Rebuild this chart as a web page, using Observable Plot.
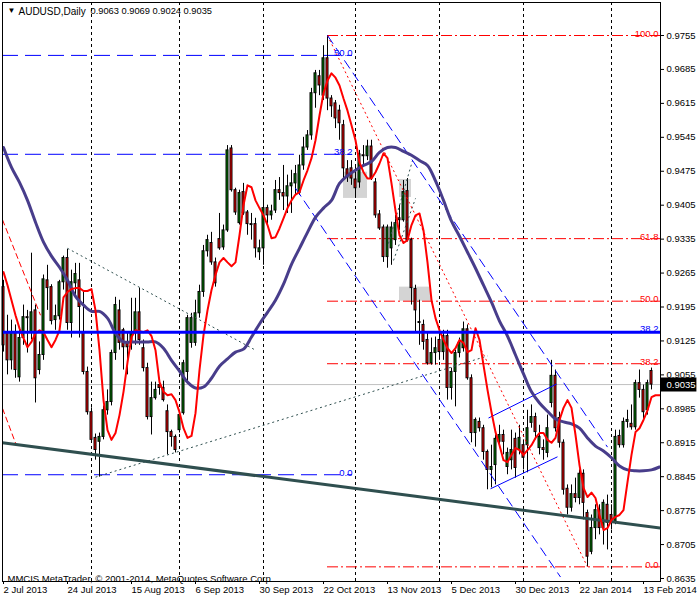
<!DOCTYPE html>
<html><head><meta charset="utf-8">
<script src="https://cdn.jsdelivr.net/npm/d3@7"></script>
<script src="https://cdn.jsdelivr.net/npm/@observablehq/plot@0.6"></script>
<style>body{margin:0;background:#fff;}</style>
</head><body><div id="chart"></div>
<script>
const symbolLabel = "AUDUSD,Daily";
const ohlcLabel = "0.9063 0.9069 0.9024 0.9035";
const copyright = "MMCIS MetaTrader, \u00A9 2001-2014, MetaQuotes Software Corp.";

const xTicks = [0,16,32,48,64,80,96,112,128,144,160];
const xLabels = ["2 Jul 2013","24 Jul 2013","15 Aug 2013","6 Sep 2013","30 Sep 2013","22 Oct 2013","13 Nov 2013","5 Dec 2013","30 Dec 2013","22 Jan 2014","13 Feb 2014"];
const yTicks = [0.9755,0.9685,0.9615,0.9545,0.9475,0.9405,0.9335,0.9265,0.9195,0.9125,0.9055,0.8985,0.8915,0.8845,0.8775,0.8705,0.8635];
const gridIdx = [22,44,65,88,109,130,152];

const open = [
.9236,.9143,.9085,.9143,.9050,.9131,.9174,.9143,.9188,.9065,
.9096,.9250,.9236,.9168,.9176,.9246,.9296,.9162,.9244,.9250,
.9143,.9061,.8978,.8925,.8917,.8927,.8982,.8999,.9100,.9188,
.9147,.9121,.9121,.9141,.9184,.9110,.9069,.8968,.9007,.9034,
.9028,.8980,.8937,.8927,.8941,.8976,.9061,.9121,.9121,.9182,
.9226,.9310,.9327,.9287,.9335,.9318,.9353,.9522,.9436,.9368,
.9432,.9390,.9366,.9366,.9308,.9316,.9399,.9384,.9394,.9436,
.9430,.9423,.9444,.9450,.9430,.9487,.9524,.9549,.9636,.9671,
.9631,.9708,.9625,.9615,.9600,.9570,.9479,.9481,.9458,.9452,
.9508,.9506,.9526,.9452,.9386,.9359,.9298,.9316,.9333,.9378,
.9374,.9434,.9333,.9232,.9164,.9158,.9127,.9079,.9100,.9127,
.9102,.9135,.9028,.9061,.9100,.9110,.9149,.9048,.8935,.8958,
.8945,.8896,.8859,.8869,.8917,.8931,.8865,.8879,.8923,.8900,
.8910,.8910,.8956,.8968,.8904,.8904,.8894,.8997,.9053,.8966,
.8915,.8820,.8781,.8809,.8801,.8851,.8770,.8690,.8739,.8776,
.8739,.8787,.8766,.8752,.8929,.8910,.8958,.8954,.8947,.9038,
.9024,.8982,.9063];
const high = [
.9250,.9178,.9168,.9158,.9147,.9199,.9188,.9306,.9199,.9123,
.9261,.9281,.9241,.9199,.9250,.9300,.9314,.9271,.9285,.9285,
.9226,.9071,.8987,.8933,.8935,.8991,.9024,.9106,.9215,.9209,
.9151,.9143,.9213,.9213,.9234,.9127,.9079,.9040,.9040,.9048,
.9042,.8993,.8941,.8931,.8982,.9085,.9178,.9182,.9209,.9240,
.9322,.9343,.9349,.9296,.9388,.9364,.9528,.9528,.9440,.9436,
.9450,.9394,.9388,.9378,.9333,.9436,.9405,.9405,.9456,.9462,
.9487,.9467,.9477,.9487,.9508,.9545,.9559,.9646,.9683,.9683,
.9734,.9755,.9631,.9621,.9611,.9580,.9497,.9497,.9487,.9518,
.9528,.9539,.9539,.9460,.9394,.9364,.9364,.9370,.9384,.9405,
.9456,.9460,.9337,.9240,.9209,.9168,.9143,.9131,.9133,.9153,
.9147,.9147,.9069,.9106,.9131,.9164,.9158,.9055,.8966,.8966,
.8951,.8900,.8910,.8931,.8951,.8941,.8904,.8941,.8935,.8951,
.8921,.8982,.8993,.8976,.8951,.8921,.8972,.9085,.9065,.8978,
.8921,.8828,.8828,.8842,.8859,.8859,.8776,.8766,.8787,.8787,
.8797,.8807,.8787,.8941,.8941,.8966,.8982,.8993,.9044,.9065,
.9034,.9044,.9069];
const low = [
.9102,.9055,.9065,.9048,.9040,.9116,.9100,.9127,.8997,.9055,
.9085,.9188,.9158,.9147,.9168,.9230,.9147,.9131,.9219,.9131,
.9055,.8972,.8917,.8879,.8844,.8921,.8972,.8991,.9085,.9106,
.9065,.9055,.9106,.9116,.9116,.9061,.8962,.8931,.9003,.9013,
.8999,.8890,.8906,.8894,.8935,.8972,.9038,.9110,.9114,.9172,
.9215,.9298,.9281,.9236,.9312,.9312,.9349,.9432,.9384,.9364,
.9384,.9343,.9333,.9296,.9291,.9281,.9364,.9374,.9388,.9415,
.9394,.9388,.9388,.9425,.9425,.9477,.9518,.9539,.9605,.9631,
.9621,.9600,.9586,.9563,.9539,.9460,.9452,.9446,.9419,.9440,
.9487,.9497,.9456,.9378,.9353,.9287,.9275,.9281,.9322,.9353,
.9370,.9329,.9199,.9141,.9116,.9106,.9075,.9075,.9075,.9085,
.9085,.9003,.9003,.8989,.9090,.9102,.9044,.8915,.8906,.8937,
.8879,.8818,.8822,.8828,.8910,.8890,.8849,.8859,.8842,.8890,
.8859,.8853,.8945,.8921,.8890,.8879,.8884,.8987,.8937,.8904,
.8807,.8766,.8772,.8791,.8787,.8756,.8659,.8684,.8715,.8725,
.8704,.8694,.8735,.8746,.8904,.8904,.8945,.8941,.8941,.9007,
.8962,.8972,.9024];
const close = [
.9116,.9085,.9143,.9065,.9131,.9174,.9172,.9184,.9048,.9096,
.9252,.9234,.9166,.9176,.9246,.9296,.9162,.9246,.9263,.9195,
.9061,.8978,.8921,.8900,.8927,.8982,.8999,.9100,.9199,.9121,
.9112,.9112,.9141,.9184,.9127,.9069,.8968,.9007,.9024,.9028,
.9003,.8937,.8927,.8900,.8972,.9079,.9172,.9172,.9182,.9226,
.9310,.9333,.9287,.9244,.9316,.9353,.9518,.9436,.9390,.9430,
.9388,.9366,.9364,.9316,.9316,.9399,.9384,.9392,.9436,.9430,
.9423,.9444,.9450,.9469,.9487,.9524,.9549,.9636,.9677,.9652,
.9708,.9625,.9609,.9584,.9574,.9481,.9462,.9460,.9440,.9510,
.9506,.9526,.9460,.9384,.9357,.9298,.9359,.9359,.9368,.9374,
.9432,.9333,.9234,.9188,.9162,.9123,.9079,.9100,.9110,.9102,
.9135,.9028,.9061,.9100,.9121,.9149,.9048,.8935,.8962,.8945,
.8896,.8859,.8865,.8923,.8931,.8917,.8894,.8900,.8863,.8925,
.8884,.8945,.8968,.8937,.8927,.8900,.8945,.9053,.8945,.8915,
.8818,.8781,.8809,.8801,.8851,.8791,.8680,.8739,.8776,.8739,
.8791,.8750,.8750,.8927,.8910,.8958,.8962,.8947,.9038,.9024,
.8978,.9038,.9035];

// fast moving average (red), one value per bar index 0..164
const fastMA = [
.9267,.9240,.9209,.9178,.9151,.9131,.9112,.9123,.9141,.9147,
.9143,.9127,.9112,.9127,.9147,.9215,.9226,.9232,.9234,.9234,
.9228,.9228,.9232,.9188,.9106,.9003,.8941,.8921,.8935,.8972,
.9020,.9081,.9133,.9147,.9145,.9143,.9147,.9135,.9106,.9040,
.9020,.9013,.9015,.9003,.8978,.8945,.8925,.8929,.8976,.9065,
.9137,.9188,.9230,.9261,.9287,.9296,.9287,.9279,.9287,.9343,
.9405,.9446,.9442,.9415,.9399,.9384,.9364,.9337,.9339,.9357,
.9378,.9399,.9415,.9427,.9432,.9456,.9477,.9502,.9539,.9590,
.9636,.9662,.9677,.9668,.9652,.9625,.9600,.9570,.9539,.9493,
.9473,.9460,.9460,.9473,.9491,.9512,.9502,.9450,.9394,.9343,
.9327,.9333,.9364,.9384,.9388,.9353,.9287,.9209,.9172,.9147,
.9127,.9110,.9100,.9110,.9127,.9121,.9102,.9106,.9151,.9127,
.9075,.9024,.8978,.8937,.8910,.8879,.8875,.8890,.8904,.8900,
.8890,.8900,.8910,.8925,.8935,.8935,.8921,.8915,.8925,.8962,
.8987,.9003,.8987,.8931,.8869,.8822,.8803,.8812,.8801,.8766,
.8735,.8739,.8756,.8762,.8766,.8776,.8834,.8890,.8937,.8945,
.8962,.8982,.9009,.9013,.9013];

// slow moving average (purple), sampled every second bar
const slowIdx = [0,2,4,6,8,10,12,14,16,18,20,22,24,26,28,30,32,34,36,38,40,42,44,46,48,50,52,54,56,58,60,62,64,66,68,70,72,74,76,78,80,82,84,86,88,90,92,94,96,98,100,102,104,106,108,110,112,114,116,118,120,122,124,126,128,130,132,134,136,138,140,142,144,146,148,150,152,154,156,158,160,162,164];
const slowMA = [
.9524,.9483,.9452,.9415,.9370,.9329,.9300,.9277,.9250,.9217,
.9199,.9186,.9186,.9172,.9141,.9123,.9123,.9123,.9123,.9123,
.9110,.9085,.9063,.9040,.9028,.9030,.9048,.9073,.9088,.9102,
.9108,.9133,.9160,.9184,.9209,.9242,.9283,.9316,.9349,.9380,
.9399,.9415,.9450,.9466,.9477,.9487,.9495,.9514,.9524,.9524,
.9516,.9508,.9497,.9487,.9455,.9415,.9372,.9341,.9308,.9275,
.9240,.9205,.9166,.9135,.9096,.9057,.9020,.8997,.8980,.8964,
.8958,.8954,.8945,.8925,.8908,.8898,.8884,.8867,.8859,.8857,
.8857,.8859,.8865];

// Fibonacci levels
const redFibLabels = ["100.0","61.8","50.0","38.2","0.0"];
const redFibPrices = [0.9755,0.9336,0.9207,0.9078,0.8659];
const redFibStart = 81;
const blueFibLabels = ["50.0","38.2","0.0"];
const blueFibPrices = [0.9714,0.9510,0.8849];
const blueFibEnd = 87.25;
const blueLevelLabel = "38.2";
const blueLevelPrice = 0.9143;
const lastClose = 0.9035;

// trend objects: [bar index, price] start and end
const longTrend = [[-0.25,0.8915,164.25,0.8739]];
const dottedTrends = [[16,0.9316,63,0.9106],[23,0.8844,121,0.9094],[96.25,0.9326,102.25,0.9497],[97.5,0.9291,103,0.9419]];
const redDiagonal = [[81,0.9755,146,0.8659]];
const redChannel = [[-0.25,0.9375,9.25,0.9178],[-0.25,0.8986,3.25,0.8909]];
const blueChannel = [[81,0.9755,151,0.8906],[73,0.9440,139.25,0.8638]];
const blueFlag = [[121.25,0.8966,138.25,0.9036],[121.75,0.8820,138.5,0.8886]];
const grayBoxes = [[85,91,0.9473,0.9419],[99,102,0.9458,0.9421],[99,107,0.9236,0.9207]];

const bars = open.map((o,i)=>({i, open:o, high:high[i], low:low[i], close:close[i]}));
const fast = fastMA.map((v,i)=>({i, v}));
const slow = slowIdx.map((i,k)=>({i, v: slowMA[k]}));
const redFib = redFibPrices.map((p,k)=>({price:p, label:redFibLabels[k]}));
const blueFib = blueFibPrices.map((p,k)=>({price:p, label:blueFibLabels[k]}));
const seg = a => a.map(d=>({x1:d[0], y1:d[1], x2:d[2], y2:d[3]}));
const boxes = grayBoxes.map(d=>({x1:d[0], x2:d[1], y1:d[2], y2:d[3]}));
const xRight = 164.25, xLeft = -0.25;
const font = {fontFamily:"'Liberation Sans', Arial, sans-serif"};

const chart = Plot.plot({
  width: 700, height: 600,
  marginLeft: 2, marginRight: 40, marginTop: 2, marginBottom: 19,
  style: {fontFamily:"'Liberation Sans', Arial, sans-serif", fontSize:"9.5px", background:"white", color:"black"},
  x: {type:"linear", domain:[xLeft, xRight]},
  y: {type:"linear", domain:[0.86288, 0.98231]},
  marks: [
    Plot.rect(boxes, {x1:"x1", x2:"x2", y1:"y1", y2:"y2", fill:"#d4d4d4"}),
    Plot.ruleX(gridIdx, {x:d=>d, stroke:"black", strokeDasharray:"3,3"}),
    Plot.ruleY([lastClose], {y:d=>d, stroke:"#c0c0c0"}),
    Plot.ruleY(blueFib, {y:"price", x1:xLeft, x2:blueFibEnd, stroke:"#0000ff", strokeDasharray:"16,7"}),
    Plot.ruleY(redFib, {y:"price", x1:redFibStart, x2:xRight, stroke:"#ff0000", strokeDasharray:"11,3,2,3"}),
    Plot.ruleX(bars, {x:"i", y1:"low", y2:"high", stroke:"black", strokeWidth:1}),
    Plot.rect(bars, {x1:d=>d.i-0.25, x2:d=>d.i+0.25, y1:"open", y2:"close",
      fill:d=>d.close>=d.open?"#008000":"#ff0000", stroke:"black", strokeWidth:1}),
    Plot.link(seg(dottedTrends), {x1:"x1", y1:"y1", x2:"x2", y2:"y2", stroke:"#2f4f4f", strokeDasharray:"2,3", clip:true}),
    Plot.link(seg(redDiagonal), {x1:"x1", y1:"y1", x2:"x2", y2:"y2", stroke:"#ff0000", strokeDasharray:"2,3", clip:true}),
    Plot.link(seg(redChannel), {x1:"x1", y1:"y1", x2:"x2", y2:"y2", stroke:"#ff0000", strokeDasharray:"6,3", clip:true}),
    Plot.link(seg(blueChannel), {x1:"x1", y1:"y1", x2:"x2", y2:"y2", stroke:"#0000ff", strokeDasharray:"10,5", clip:true}),
    Plot.link(seg(blueFlag), {x1:"x1", y1:"y1", x2:"x2", y2:"y2", stroke:"#0000ff", clip:true}),
    Plot.link(seg(longTrend), {x1:"x1", y1:"y1", x2:"x2", y2:"y2", stroke:"#2f4f4f", strokeWidth:3, clip:true}),
    Plot.line(slow, {x:"i", y:"v", stroke:"#483d8b", strokeWidth:3, curve:"catmull-rom", clip:true}),
    Plot.line(fast, {x:"i", y:"v", stroke:"#ff0000", strokeWidth:2, clip:true}),
    Plot.ruleY([blueLevelPrice], {y:d=>d, stroke:"#0000ff", strokeWidth:3}),
    Plot.text(redFib, {x:xRight, y:"price", text:"label", textAnchor:"end", lineAnchor:"bottom", dx:-2, dy:1, fill:"#ff0000", ...font}),
    Plot.text(blueFib, {x:blueFibEnd, y:"price", text:"label", textAnchor:"end", lineAnchor:"bottom", dy:1, fill:"#0000ff", ...font}),
    Plot.text([blueLevelLabel], {x:xRight, y:()=>blueLevelPrice, text:d=>d, textAnchor:"end", lineAnchor:"bottom", dx:-2, dy:0, fill:"#0000ff", ...font}),
    Plot.text(["\u25BC"], {frameAnchor:"top-left", text:d=>d, dx:5, dy:5, lineAnchor:"top", textAnchor:"start", fontSize:8}),
    Plot.text([symbolLabel], {frameAnchor:"top-left", text:d=>d, dx:16, dy:5, lineAnchor:"top", textAnchor:"start", fontSize:10}),
    Plot.text([ohlcLabel], {frameAnchor:"top-left", text:d=>d, dx:88, dy:5, lineAnchor:"top", textAnchor:"start", fontSize:9.3}),
    Plot.text([copyright], {frameAnchor:"bottom-left", text:d=>d, dx:5, dy:0, lineAnchor:"bottom", textAnchor:"start", fontSize:9.5}),
    Plot.frame({stroke:"black"}),
    Plot.axisY(yTicks, {anchor:"right", tickFormat:d3.format(".4f"), tickSize:3, tickPadding:3, label:null}),
    Plot.axisX(xTicks, {anchor:"bottom", tickFormat:d=>xLabels[xTicks.indexOf(d)], textAnchor:"start", tickSize:3, tickPadding:2, label:null}),
    Plot.ruleY([lastClose], {y:d=>d, x1:xRight+0.25, x2:xRight+9.1, stroke:"black", strokeWidth:14}),
    Plot.text([lastClose], {y:d=>d, x:xRight, text:d=>d3.format(".4f")(d), textAnchor:"start", dx:6, fill:"white", ...font})
  ]
});
document.getElementById("chart").appendChild(chart);
</script>
</body></html>
